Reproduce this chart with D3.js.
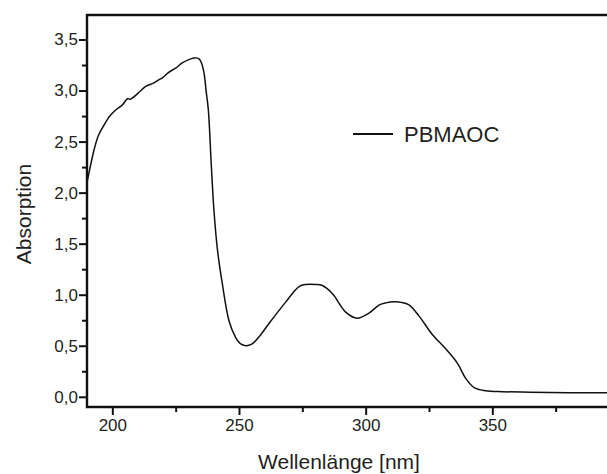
<!DOCTYPE html>
<html>
<head>
<meta charset="utf-8">
<script src="https://cdn.jsdelivr.net/npm/d3@7"></script>
<style>
  body { margin: 0; background: #fff; }
  text { font-family: "Liberation Sans", Arial, sans-serif; fill: #231f20; }
</style>
</head>
<body>
<svg id="chart" width="607" height="474"></svg>
<script>
// wavelength (nm) and absorption
var wavelength = [190, 191, 192.8, 194.5, 196.7, 199, 201.3, 204, 206, 207, 210, 213.2, 216, 218, 220, 222.4,
  225, 227.6, 230, 232.9, 234.2, 235.2, 236.2, 237, 237.9, 239, 240.1, 241.5, 243.4, 246.1, 248.7, 250.5,
  252.7, 255, 258, 261.9, 268.5, 273.7, 276.4, 280, 282.9, 286.9, 292.1, 296.7, 301.3, 305.4, 308, 311.2,
  314, 317.1, 321.1, 326.3, 331.6, 336.2, 339.5, 342.8, 347.4, 354, 365, 380, 400];
var absorption = [2.10, 2.22, 2.42, 2.56, 2.66, 2.75, 2.81, 2.86, 2.92, 2.915, 2.97, 3.04, 3.07, 3.10, 3.13, 3.18,
  3.22, 3.27, 3.30, 3.32, 3.31, 3.27, 3.17, 3.00, 2.81, 2.30, 1.83, 1.44, 1.11, 0.74, 0.58, 0.52,
  0.50, 0.515, 0.59, 0.72, 0.93, 1.08, 1.10, 1.10, 1.09, 1.01, 0.83, 0.77, 0.82, 0.90, 0.92, 0.93,
  0.925, 0.90, 0.79, 0.61, 0.47, 0.33, 0.18, 0.09, 0.06, 0.05, 0.045, 0.04, 0.04];

var xMajor = [200, 250, 300, 350];
var xMinor = [225, 275, 325, 375];
var yMajor = [0, 0.5, 1, 1.5, 2, 2.5, 3, 3.5];
var yMinor = [0.25, 0.75, 1.25, 1.75, 2.25, 2.75, 3.25];
var seriesName = "PBMAOC";

var svg = d3.select("#chart");
var plot = {left: 87, top: 15, bottom: 407, right: 607};

var x = d3.scaleLinear().domain([190, 400]).range([87, 619]);
var y = d3.scaleLinear().domain([-0.1, 3.74]).range([407, 15]);

var de = d3.formatLocale({decimal: ",", thousands: ".", grouping: [3], currency: ["", "€"]});
var fmt = de.format(".1f");

var data = wavelength.map(function(w, i) { return {x: w, y: absorption[i]}; });

svg.append("clipPath").attr("id", "clip")
  .append("rect").attr("x", plot.left).attr("y", plot.top)
  .attr("width", plot.right - plot.left).attr("height", plot.bottom - plot.top);

function styleTicks(g) {
  g.select(".domain").remove();
  g.selectAll("line").attr("stroke-width", 2).attr("stroke", "#111");
  g.selectAll("text").style("font-size", "17px").attr("fill", "#231f20")
    .style("font-family", "'Liberation Sans', Arial, sans-serif");
}

// minor ticks
svg.append("g")
  .attr("transform", "translate(0," + plot.bottom + ")")
  .call(d3.axisBottom(x).tickValues(xMinor).tickSize(5).tickFormat(""))
  .call(styleTicks);

svg.append("g")
  .attr("transform", "translate(" + plot.left + ",0)")
  .call(d3.axisLeft(y).tickValues(yMinor).tickSize(5).tickFormat(""))
  .call(styleTicks);

// major ticks with labels
svg.append("g")
  .attr("transform", "translate(0," + plot.bottom + ")")
  .call(d3.axisBottom(x).tickValues(xMajor).tickSize(8).tickPadding(4).tickFormat(d3.format("d")))
  .call(styleTicks);

svg.append("g")
  .attr("transform", "translate(" + plot.left + ",0)")
  .call(d3.axisLeft(y).tickValues(yMajor).tickSize(8).tickPadding(1).tickFormat(fmt))
  .call(styleTicks);

// frame: top, left, bottom
svg.append("path")
  .attr("d", "M" + plot.right + "," + plot.top + "H" + plot.left + "V" + plot.bottom + "H" + plot.right)
  .attr("fill", "none")
  .attr("stroke", "#111")
  .attr("stroke-width", 2.4);

// spectrum
var line = d3.line()
  .x(function(d) { return x(d.x); })
  .y(function(d) { return y(d.y); })
  .curve(d3.curveCatmullRom.alpha(0.5));

svg.append("path")
  .datum(data)
  .attr("clip-path", "url(#clip)")
  .attr("d", line)
  .attr("fill", "none")
  .attr("stroke", "#111")
  .attr("stroke-width", 1.5);

// legend
svg.append("line")
  .attr("x1", 353).attr("x2", 393).attr("y1", 134).attr("y2", 134)
  .attr("stroke", "#111").attr("stroke-width", 2);
svg.append("text")
  .text(seriesName)
  .attr("x", 404).attr("y", 142)
  .style("font-size", "22px");

// axis labels
svg.append("text")
  .text("Wellenlänge [nm]")
  .attr("text-anchor", "middle")
  .attr("x", 339).attr("y", 469)
  .style("font-size", "21px");

svg.append("text")
  .text("Absorption")
  .attr("text-anchor", "middle")
  .attr("transform", "translate(31,214)rotate(-90)")
  .style("font-size", "21px");
</script>
</body>
</html>
